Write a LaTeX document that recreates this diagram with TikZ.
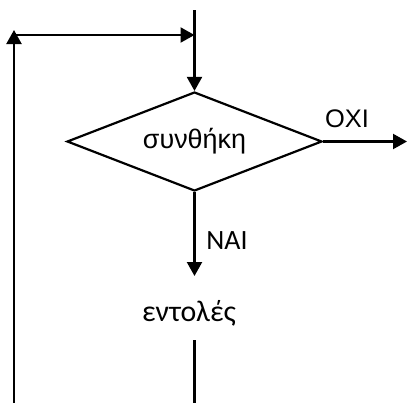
\documentclass[tikz,border=0pt]{standalone}
\usepackage{fontspec}
\setmainfont{Liberation Sans}
\newfontfamily\calibri{Carlito}
\usetikzlibrary{shapes.geometric,arrows.meta}
\tikzset{
  cond/.style={diamond, draw, aspect=2.57, minimum width=255bp, minimum height=99bp, inner sep=0pt, font=\fontsize{27}{32}\selectfont},
  lbl/.style={inner sep=0pt},
  cal/.style={font=\calibri\fontsize{30}{34}\selectfont}
}
\begin{document}
\begin{tikzpicture}[x=1bp, y=-1bp, line width=2.2bp, line join=miter, >={Triangle[length=14bp,width=15bp]}, font=\fontsize{25.5}{30}\selectfont]
	\useasboundingbox (0,0) rectangle (408,403);
	\node[cond] (test) at (194.5,141.5) {συνθήκη};
	\node[cal,inner sep=0pt,anchor=base] (body) at (189,321.5) {εντολές};
	\node[lbl] (no) at (347,119) {ΟΧΙ};
	\node[lbl,cal,font=\calibri\fontsize{28}{32}\selectfont] (yes) at (227,241) {ΝΑΙ};
	\coordinate (entry) at (194.5,10);
	\coordinate (merge) at (194.5,35);
	\coordinate (loopL) at (14,35);
	\coordinate (loopT) at (14,30);
	\coordinate (loopB) at (14,403);
	\coordinate (exit) at (407,141.5);
	\coordinate (yesT) at (194.5,276);
	\coordinate (bodyT) at (194.5,340);
	\coordinate (bodyB) at (194.5,403);
	\draw[->] (entry)--(test.north);
	\draw[->] (loopL)--(merge);
	\draw[->] (loopB)--(loopT);
	\draw[->] (test.east)--(exit);
	\draw[->] (test.south)--(yesT);
	\draw (bodyT)--(bodyB);
\end{tikzpicture}
\end{document}
